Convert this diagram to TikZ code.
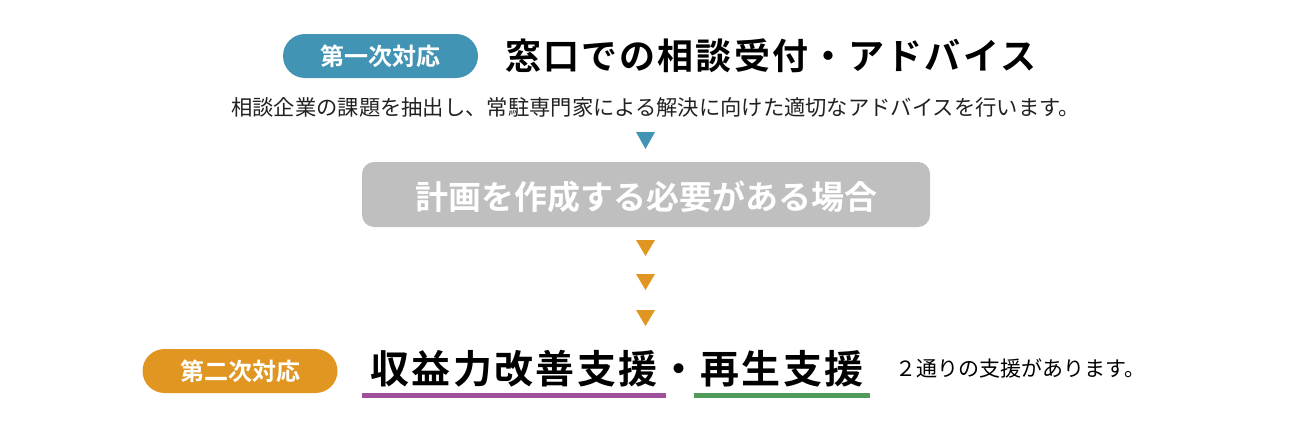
\documentclass[tikz,border=0pt]{standalone}
\usepackage{fontspec}
\usetikzlibrary{shapes.geometric}
\usetikzlibrary{shapes.misc}
\setmainfont{Noto Sans CJK JP}
\newfontfamily\jpb{Noto Sans CJK JP Bold}
\newfontfamily\jpbwide{Noto Sans CJK JP Bold}[LetterSpace=6]
\definecolor{stepblue}{HTML}{4294B4}
\definecolor{steporange}{HTML}{E09620}
\definecolor{stepgray}{HTML}{BFBFBF}
\definecolor{linepurple}{HTML}{A0509B}
\definecolor{linegreen}{HTML}{509B5A}

\begin{document}
\begin{tikzpicture}[x=1pt,y=-1pt,
  pill/.style={rounded rectangle, inner sep=0pt, minimum width=195pt, minimum height=44pt,
    text=white, text height=19.9pt, text depth=1.7pt, font=\jpb\fontsize{24}{28}\selectfont},
  title/.style={inner xsep=0pt, inner ysep=9pt, text height=32.4pt, text depth=2.7pt,
    font=\jpbwide\fontsize{39}{44}\selectfont},
  tri/.style={fill=steporange}]
\useasboundingbox (0,0) rectangle (1290,423);
\node[pill, fill=stepblue] (a) at (380.5,56) {第一次対応};
\node[anchor=base west, inner sep=0pt, font=\jpbwide\fontsize{36}{40}\selectfont] (b) at (505,69.7) {窓口での相談受付・アドバイス};
\node[anchor=base west, inner sep=0pt, text=black!87, font=\fontsize{21.3}{25}\selectfont] (c) at (231,115) {相談企業の課題を抽出し、常駐専門家による解決に向けた適切なアドバイスを行います。};
\fill[fill=stepblue] (636,132) -- (655,132) -- (645.5,149) -- cycle;
\node[rounded corners=12pt, fill=stepgray, minimum width=568pt, minimum height=65pt, inner sep=0pt,
  text=white, text height=32.4pt, text depth=2.3pt, font=\jpb\fontsize{33}{38}\selectfont] (d) at (646,194.5) {計画を作成する必要がある場合};
\fill[tri] (636,240) -- (655,240) -- (645.5,256) -- cycle;
\fill[tri] (636,274) -- (655,274) -- (645.5,290) -- cycle;
\fill[tri] (636,310) -- (655,310) -- (645.5,326) -- cycle;
\node[pill, fill=steporange] (p) at (240,371) {第二次対応};
\node[title, anchor=base, minimum width=304pt] (e) at (514,383.3) {収益力改善支援};
\node[title, anchor=base] (f) at (679,383.3) {・};
\node[title, anchor=base, minimum width=176pt] (g) at (782,383.3) {再生支援};
\draw[line width=5pt, linepurple] (e.south west) -- (e.south east);
\draw[line width=5pt, linegreen] (g.south west) -- (g.south east);
\node[anchor=base west, inner sep=0pt, font=\fontsize{21}{25}\selectfont] (h) at (895,376) {２通りの支援があります。};
\end{tikzpicture}
\end{document}
